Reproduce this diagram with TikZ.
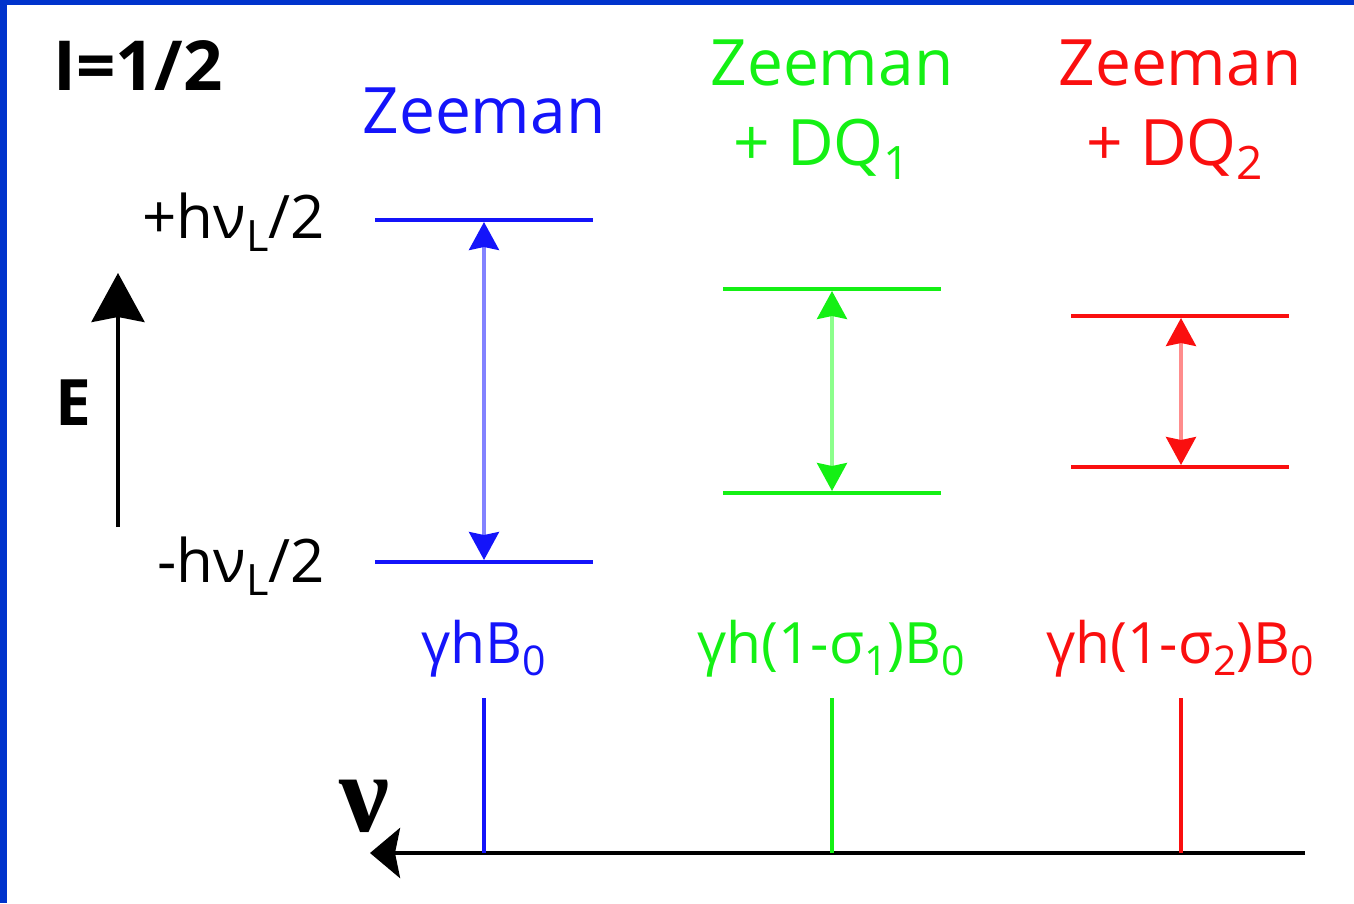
\documentclass[tikz,border=0pt]{standalone}
\usepackage{fontspec}
\setmainfont{Open Sans}
\newfontfamily\nufont{Liberation Serif}
\usepackage{graphicx}
\usetikzlibrary{arrows.meta}
\definecolor{bordblue}{RGB}{0,51,204}
\definecolor{zblue}{RGB}{20,20,250}
\definecolor{zgreen}{RGB}{20,240,20}
\definecolor{zred}{RGB}{250,15,15}
\definecolor{lblue}{RGB}{130,130,255}
\definecolor{lgreen}{RGB}{140,255,140}
\definecolor{lred}{RGB}{255,140,140}
\newcommand\sbx[1]{\raisebox{-0.22em}{\scalebox{0.72}{#1}}}
\begin{document}
\begin{tikzpicture}[x=1pt,y=-1pt,
  title/.style={font=\fontsize{64}{70}\selectfont, inner sep=0pt, anchor=base},
  elabel/.style={font=\fontsize{60}{66}\selectfont, inner sep=0pt, anchor=base east},
  flabel/.style={font=\fontsize{57}{62}\selectfont, inner sep=0pt, anchor=base},
  level/.style={line width=4.6pt},
  trans/.style={line width=3.6pt, {Stealth[length=28pt,width=30pt,inset=3pt,color=#1]}-{Stealth[length=28pt,width=30pt,inset=3pt,color=#1]}},
  peak/.style={line width=4pt}]
\useasboundingbox (0,0) rectangle (1354,903);
\fill[bordblue] (0,0) rectangle (7,903);
\fill[bordblue] (0,0) rectangle (1354,5);

% headings
\node[title, font=\fontsize{69}{74}\selectfont\bfseries] (spin) at (138,90) {I=1/2};
\node[title, text=zblue] (hz) at (484,133) {Zeeman};
\node[title, text=zgreen] (hg1) at (832,85) {Zeeman};
\node[title, text=zgreen] (hg2) at (822,165) {+ DQ\sbx{1}};
\node[title, text=zred] (hr1) at (1180,85) {Zeeman};
\node[title, text=zred] (hr2) at (1175,165) {+ DQ\sbx{2}};

% level labels
\node[elabel] (lup) at (325,238) {+hν\sbx{L}/2};
\node[elabel] (ldn) at (325,582) {-hν\sbx{L}/2};

% energy axis
\coordinate (eb) at (118,527);
\coordinate (et) at (118,273);
\draw[line width=4pt, -{Stealth[length=49pt,width=53pt,inset=5pt]}] (eb) -- (et);
\node[title, font=\fontsize{64}{70}\selectfont\bfseries] (E) at (73,425) {E};

% blue levels
\draw[level, zblue] (375,220) -- (593,220);
\draw[level, zblue] (375,562) -- (593,562);
\coordinate (bU) at (484,222);
\coordinate (bL) at (484,560);
\draw[trans=zblue, lblue] (bL) -- (bU);

% green levels
\draw[level, zgreen] (723,289) -- (941,289);
\draw[level, zgreen] (723,493) -- (941,493);
\coordinate (gU) at (832,291);
\coordinate (gL) at (832,491);
\draw[trans=zgreen, lgreen] (gL) -- (gU);

% red levels
\draw[level, zred] (1071,316) -- (1289,316);
\draw[level, zred] (1071,467) -- (1289,467);
\coordinate (rU) at (1181,318);
\coordinate (rL) at (1181,465);
\draw[trans=zred, lred] (rL) -- (rU);

% frequency labels
\node[flabel, text=zblue] (fb) at (484,663) {γhB\sbx{0}};
\node[flabel, text=zgreen] (fg) at (831,663) {γh(1-σ\sbx{1})B\sbx{0}};
\node[flabel, text=zred] (fr) at (1180,663) {γh(1-σ\sbx{2})B\sbx{0}};

% spectrum axis
\coordinate (ar) at (1305,853);
\coordinate (al) at (370,853);
\draw[line width=4.6pt, -{Stealth[length=30pt,width=50pt,inset=5pt]}] (ar) -- (al);
\node[inner sep=0pt, font=\fontsize{112}{112}\selectfont\nufont\bfseries] (nu) at (365,806) {ν};

% peaks
\coordinate (pb) at (484,698);
\coordinate (pg) at (832,698);
\coordinate (pr) at (1181,698);
\coordinate (pbb) at (484,853);
\coordinate (pgb) at (832,853);
\coordinate (prb) at (1181,853);
\draw[peak, zblue] (pb) -- (pbb);
\draw[peak, zgreen] (pg) -- (pgb);
\draw[peak, zred] (pr) -- (prb);
\end{tikzpicture}
\end{document}
